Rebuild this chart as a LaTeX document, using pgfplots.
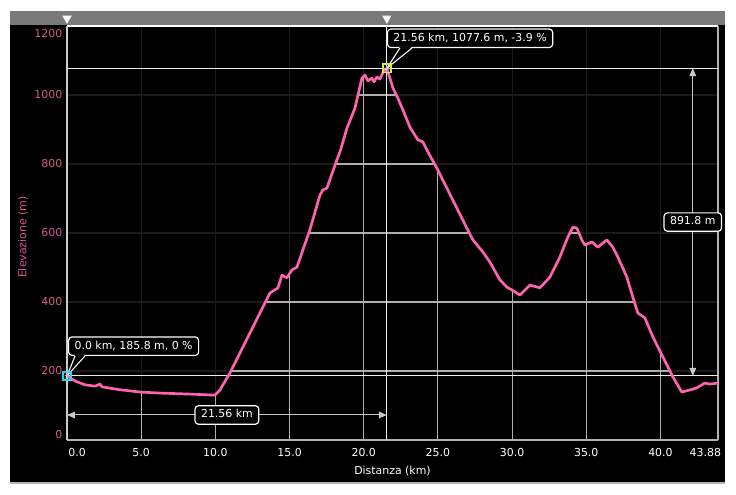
\documentclass[border=0pt]{standalone}
\usepackage{pgfplots}
\pgfplotsset{compat=1.18}
\usepackage{pgfplotstable}
\usetikzlibrary{arrows.meta}
\usepackage{fontspec}
\setmainfont{DejaVu Sans}
\definecolor{barGray}{RGB}{122,122,122}
\definecolor{profPink}{RGB}{255,98,175}
\definecolor{tickPink}{RGB}{214,86,140}
\definecolor{gridGray}{RGB}{175,175,175}
\definecolor{markCyan}{RGB}{40,215,235}
\definecolor{markYellow}{RGB}{215,235,70}
\definecolor{arrowGray}{RGB}{200,200,200}
\newcommand{\fs}{\fontsize{8.2}{9.8}\selectfont}

\pgfplotstableread{
km ele
0 185.8
0.54 171
1.21 160
1.89 156
2.22 162
2.36 154
3.5 146
4.92 139
6.27 136
8.29 133
9.97 130
10.31 145
10.98 194
13.68 426
14.22 441
14.49 478
14.82 470
15.16 493
15.5 501
16.37 609
17.05 710
17.25 725
17.52 730
18.19 812
18.40 835
18.87 904
19.41 962
19.88 1049
20.08 1058
20.28 1041
20.55 1049
20.69 1038
20.89 1052
21.09 1046
21.29 1064
21.56 1077.6
21.97 1020
22.30 991
22.64 957
23.11 907
23.65 870
23.99 864
24.33 835
24.93 788
25.61 730
26.28 672
26.95 614
27.36 580
28.03 545
28.50 516
29.18 464
29.65 443
29.99 435
30.53 420
31.20 449
31.87 441
32.55 472
33.22 530
33.76 588
34.10 617
34.37 614
34.70 580
34.91 565
35.38 574
35.78 559
36.39 580
36.79 559
37.13 530
37.74 472
38.14 414
38.48 368
38.95 354
39.49 299
40.16 241
40.84 183
41.44 139
41.98 145
42.45 151
42.99 165
43.33 162
43.88 165
}\prof

\begin{document}
\begin{tikzpicture}
\fill[white] (-50.25pt,-41.25pt) rectangle (501.75pt,330pt);
\fill[black] (-42.75pt,-32.25pt) rectangle (493.5pt,321.75pt);
\fill[barGray] (-42.75pt,311pt) rectangle (493.5pt,321.75pt);
\draw[gray!60, line width=1pt] (-42.75pt,-32.25pt) -- (493.5pt,-32.25pt);
\tikzset{callout/.style={draw=white, fill=black, text=white, rounded corners=2.5pt, line width=0.9pt, font=\fs, inner xsep=4.5pt, inner ysep=3pt, text height=6.1pt, text depth=1.7pt}}
\begin{axis}[
  at={(0,0)}, anchor=south west,
  scale only axis, width=488.25pt, height=310.5pt,
  xmin=0, xmax=43.88, ymin=0, ymax=1200,
  clip=false,
  axis line style={draw=none},
  grid=major, major grid style={draw=gridGray, line width=0.8pt},
  major tick length=0pt,
  xtick={0,5,10,15,20,25,30,35,40,43.88},
  xticklabels={\makebox[0pt][l]{\kern1pt 0.0},5.0,10.0,15.0,20.0,25.0,30.0,35.0,40.0,\makebox[0pt][r]{43.88\kern-2.25pt}},
  ytick={0,200,400,600,800,1000,1200},
  yticklabels={\raisebox{3.75pt}[\height][\depth]{0},200,400,600,800,1000,\raisebox{-6pt}[\height][\depth]{1200}},
  x tick label style={font=\fs, text=white, yshift=-3pt},
  y tick label style={font=\fs, text=tickPink},
  xlabel={Distanza (km)}, ylabel={Elevazione (m)},
  xlabel style={font=\fs, text=white, at={(axis description cs:0.5,0)}, anchor=center, yshift=-23.25pt},
  ylabel style={font=\fs, text=tickPink, at={(axis description cs:-0.0676,0.49)}, anchor=center},
]
% darken the grid above the profile
\addplot[draw=none, fill=black, fill opacity=0.85, forget plot] table[x=km,y=ele]{\prof} -- (rel axis cs:1,1) -- (rel axis cs:0,1) -- cycle;

% axis edges
\draw[gray!60, line width=1.5pt] (rel axis cs:0,0) -- (rel axis cs:1,0);
\draw[white!70!black, line width=0.9pt] (rel axis cs:1,0) -- (rel axis cs:1,1);
\draw[white, line width=0.9pt] (rel axis cs:0,1) -- (rel axis cs:1,1);
\draw[white!80!black, line width=1pt] (rel axis cs:0,0) -- (rel axis cs:0,1);

% selection lines
\draw[white!92!black, line width=0.75pt] (axis cs:0,1077.6) -- (axis cs:43.88,1077.6);
\draw[white!92!black, line width=0.75pt] (axis cs:0,185.8) -- (axis cs:43.88,185.8);
\draw[white!92!black, line width=0.75pt] (axis cs:21.56,0) -- (axis cs:21.56,1200);

% profile
\addplot[profPink, line width=2pt, line join=round] table[x=km,y=ele]{\prof};

% measure arrows
\draw[arrowGray, line width=0.75pt, {Triangle[length=6pt,width=5pt]}-{Triangle[length=6pt,width=5pt]}] (axis cs:0,72.5) -- (axis cs:21.56,72.5);
\draw[arrowGray, line width=0.75pt, {Triangle[length=6pt,width=5pt]}-{Triangle[length=6pt,width=5pt]}] (axis cs:42.18,1077.6) -- (axis cs:42.18,185.8);
\node[callout, anchor=center] at (axis cs:10.78,72.5) {21.56 km};
\node[callout, anchor=center] at (axis cs:42.18,631.7) {891.8 m};

% callouts
\node[callout, anchor=south west] at (axis cs:0.07,243.5) {0.0 km, 185.8 m, 0 \%};
\fill[black] (axis cs:0,185.8) -- (axis cs:0.54,247) -- (axis cs:1.21,247) -- cycle;
\draw[white, line width=0.8pt] (axis cs:0.54,243.5) -- (axis cs:0,185.8) -- (axis cs:1.21,243.5);
\node[callout, anchor=south west] at (axis cs:21.56,1136) {21.56 km, 1077.6 m, -3.9 \%};
\fill[black] (axis cs:21.56,1077.6) -- (axis cs:22.44,1140) -- (axis cs:23.25,1140) -- cycle;
\draw[white, line width=0.8pt] (axis cs:22.44,1136) -- (axis cs:21.56,1077.6) -- (axis cs:23.25,1136);

% markers
\addplot[only marks, mark=square, mark size=3.1pt, mark options={draw=markCyan, line width=1.2pt}] coordinates {(0,185.8)};
\addplot[only marks, mark=square, mark size=3.1pt, mark options={draw=markYellow, line width=1.2pt}] coordinates {(21.56,1077.6)};
\addplot[only marks, mark=+, mark size=1.8pt, mark options={draw=gray!50, line width=0.6pt}] coordinates {(0,185.8) (21.56,1077.6)};
\addplot[only marks, mark=triangle*, mark size=3.6pt, mark options={rotate=180, fill=white, draw=white}] coordinates {(0,1222) (21.56,1222)};
\end{axis}
\pgfresetboundingbox
\useasboundingbox (-50.25pt,-41.25pt) rectangle (501.75pt,330pt);
\end{tikzpicture}
\end{document}
